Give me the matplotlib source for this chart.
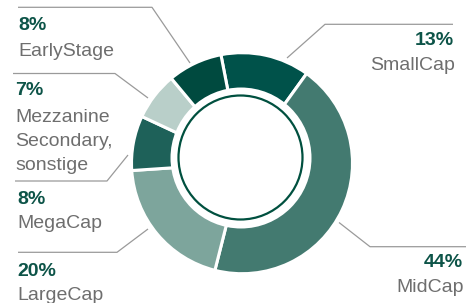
import matplotlib
matplotlib.use('Agg')
import matplotlib.pyplot as plt
from matplotlib.patches import Circle

# 데이터 (시계방향, 위쪽부터)
names = ['SmallCap', 'MidCap', 'LargeCap', 'MegaCap', 'Mezzanine\nSecondary,\nsonstige', 'EarlyStage']
shares = [13, 44, 20, 8, 7, 8]
colors = ['#00524a', '#437a70', '#7da59c', '#1e6159', '#b9cfc9', '#004a3f']

W, H = 468, 303
fig = plt.figure(figsize=(W / 100, H / 100), dpi=100)
ax = fig.add_axes([0, 0, 1, 1])

def Y(y):  # 위에서부터의 픽셀 -> 데이터 좌표
    return H - y

# 도넛 (바깥 파이 + 흰 원으로 가운데 비우기)
ax.pie(shares, colors=colors, startangle=101, counterclock=False,
       center=(242, Y(163.2)), radius=110.5,
       wedgeprops=dict(edgecolor='white', linewidth=2.2))
ax.add_patch(Circle((241, Y(158)), 70.5, facecolor='white', edgecolor='none', zorder=3))
ax.add_patch(Circle((240.5, Y(157.5)), 62, facecolor='none', edgecolor='#00503f', linewidth=1.6, zorder=4))

ax.set_xlim(0, W)
ax.set_ylim(0, H)
ax.set_aspect('equal')
ax.axis('off')

# 라벨 / 리더 라인
pct_color = '#0d5448'
name_color = '#6e6e6e'
line_color = '#9a9a9a'
fs = 14
font = ['Liberation Sans', 'DejaVu Sans']
step = 24  # 줄 간격(px)

# name index, pct xy, name xy(첫 줄 baseline), align, leader line points
labels = [
    (5, (18, 29.5), (18, 55.5), 'left', [(18, 7.3), (152, 7.3), (190, 63)]),
    (4, (15, 95), (15, 122), 'left', [(13, 73.5), (115, 73.5), (148, 98)]),
    (3, (17, 204), (17, 228), 'left', [(15, 181), (107, 181), (128, 155)]),
    (2, (17, 276), (17, 300.5), 'left', [(18, 252.3), (117, 252.3), (148, 229)]),
    (0, (454, 45), (455, 70), 'right', [(453, 24.3), (325, 24.3), (287, 58)]),
    (1, (463, 267), (464, 292), 'right', [(339, 222.5), (370, 246.7), (466, 246.7)]),
]

for i, (px, py), (nx, ny), ha, pts in labels:
    ax.text(px, Y(py), f'{shares[i]}%', ha=ha, va='baseline', fontsize=fs,
            fontweight='bold', color=pct_color, family=font)
    for k, line in enumerate(names[i].split('\n')):
        ax.text(nx, Y(ny + k * step), line, ha=ha, va='baseline', fontsize=fs,
                color=name_color, family=font)
    ax.plot([p[0] for p in pts], [Y(p[1]) for p in pts], color=line_color, lw=0.9,
            solid_capstyle='butt')

fig.savefig('out.png', dpi=100)
